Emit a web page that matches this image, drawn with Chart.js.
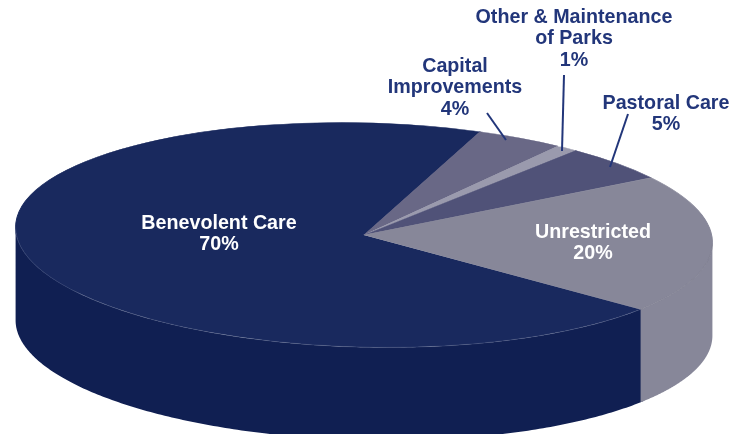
<!DOCTYPE html>
<html>
<head>
<meta charset="utf-8">
<style>
  html, body { margin: 0; padding: 0; background: #fff; }
  #wrap { width: 747px; height: 434px; }
</style>
<script src="https://cdn.jsdelivr.net/npm/chart.js@4/dist/chart.umd.min.js"></script>
</head>
<body>
<div id="wrap"><canvas id="pie"></canvas></div>
<script>
const categories = ['Benevolent Care', 'Capital Improvements', 'Other & Maintenance of Parks', 'Pastoral Care', 'Unrestricted'];
const shares = [70, 4, 1, 5, 20];
const topColors = ['#19295e', '#696886', '#9a9aad', '#505278', '#878799'];
const sideColors = ['#101f52', '#5c5b7a', '#8c8ca0', '#444669', '#878799'];

// label text, wrapped the way the picture wraps it
const labelLines = [
  ['Benevolent Care', '70%'],
  ['Capital', 'Improvements', '4%'],
  ['Other & Maintenance', 'of Parks', '1%'],
  ['Pastoral Care', '5%'],
  ['Unrestricted', '20%']
];

// where the labels sit: centre x, first line y, colour
const labelSpots = [
  [219, 223.5, '#ffffff'],
  [455, 66.5, '#22367a'],
  [574, 17.5, '#22367a'],
  [666, 103.5, '#22367a'],
  [593, 232.5, '#ffffff']
];
const leaders = [
  [487, 113, 506, 140],
  [564, 75, 562, 151],
  [628, 114, 610, 167]
];

const squash = 0.322;
const tilt = 1.4 * Math.PI / 180;
const depth = 93;

function flatten(ctx, arc) {
  ctx.translate(arc.x, arc.y);
  ctx.rotate(tilt);
  ctx.scale(1, squash);
  ctx.translate(-arc.x, -arc.y);
}

// wall of one slice: its rim angle range, front part only, pushed down by depth
function drawWall(ctx, arc, color) {
  // rim angle of the ellipse's right-most point, left-most is half a turn on
  const edge = Math.atan(-squash * Math.tan(tilt));
  let from = arc.startAngle;
  let to = arc.endAngle;
  if (from > Math.PI) { from -= 2 * Math.PI; to -= 2 * Math.PI; }
  from = Math.max(from - 0.01, edge);
  to = Math.min(to, Math.PI + edge);
  if (to <= from) return;
  const r = arc.outerRadius;
  const pt = t => {
    const ex = r * Math.cos(t);
    const ey = r * squash * Math.sin(t);
    return [arc.x + ex * Math.cos(tilt) - ey * Math.sin(tilt), arc.y + ex * Math.sin(tilt) + ey * Math.cos(tilt)];
  };
  const steps = 200;
  ctx.beginPath();
  for (let k = 0; k <= steps; k++) {
    const p = pt(from + (to - from) * k / steps);
    ctx.lineTo(p[0], p[1]);
  }
  for (let k = steps; k >= 0; k--) {
    const p = pt(from + (to - from) * k / steps);
    ctx.lineTo(p[0], p[1] + depth);
  }
  ctx.closePath();
  ctx.fillStyle = color;
  ctx.fill();
}

const pie3d = {
  id: 'pie3d',
  beforeDatasetsDraw(chart) {
    const ctx = chart.ctx;
    const arcs = chart.getDatasetMeta(0).data;
    arcs.forEach((arc, i) => drawWall(ctx, arc, sideColors[i]));
    ctx.save();
    flatten(ctx, arcs[0]);
  },
  afterDatasetsDraw(chart) {
    const ctx = chart.ctx;
    const arc = chart.getDatasetMeta(0).data[0];
    // faint rim where the top meets the wall
    const seam = arc.startAngle % (2 * Math.PI);
    ctx.lineWidth = 0.7;
    ctx.strokeStyle = 'rgba(255,255,255,0.22)';
    ctx.beginPath();
    ctx.arc(arc.x, arc.y, arc.outerRadius, seam, Math.PI);
    ctx.stroke();
    ctx.strokeStyle = 'rgba(0,0,0,0.1)';
    ctx.beginPath();
    ctx.arc(arc.x, arc.y, arc.outerRadius, 0, seam);
    ctx.stroke();
    ctx.restore();
  },
  afterDraw(chart) {
    const ctx = chart.ctx;
    ctx.save();
    ctx.strokeStyle = '#22367a';
    ctx.lineWidth = 2;
    leaders.forEach(l => {
      ctx.beginPath();
      ctx.moveTo(l[0], l[1]);
      ctx.lineTo(l[2], l[3]);
      ctx.stroke();
    });
    ctx.font = 'bold 19.7px "Liberation Sans", Arial, sans-serif';
    ctx.textAlign = 'center';
    ctx.textBaseline = 'middle';
    labelLines.forEach((lines, i) => {
      const s = labelSpots[i];
      ctx.fillStyle = s[2];
      lines.forEach((t, k) => ctx.fillText(t, s[0], s[1] + k * 21.5));
    });
    ctx.restore();
  }
};

new Chart(document.getElementById('pie'), {
  type: 'pie',
  data: {
    labels: categories,
    datasets: [{
      data: shares,
      backgroundColor: topColors,
      borderColor: topColors,
      borderWidth: 1,
      clip: false
    }]
  },
  options: {
    responsive: true,
    maintainAspectRatio: false,
    animation: false,
    rotation: 127,
    radius: 348.5,
    layout: { padding: { top: 36, right: 19 } },
    plugins: { legend: { display: false }, tooltip: { enabled: false } }
  },
  plugins: [pie3d]
});
</script>
</body>
</html>
